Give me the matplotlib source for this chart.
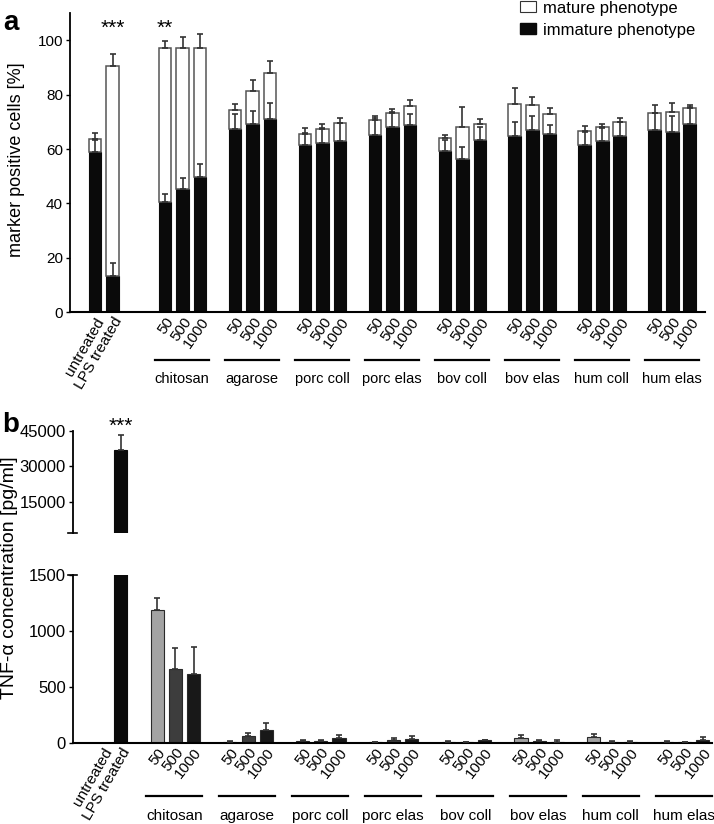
import matplotlib
matplotlib.use('Agg')
import matplotlib.pyplot as plt
import matplotlib.transforms as mtransforms
from matplotlib.patches import Patch
import numpy as np

plt.rcParams['font.family'] = ['Liberation Sans', 'DejaVu Sans']

# ---------------- data ----------------
controls = ['untreated', 'LPS treated']
materials = ['chitosan', 'agarose', 'porc coll', 'porc elas',
             'bov coll', 'bov elas', 'hum coll', 'hum elas']
doses = ['50', '500', '1000']

# panel a: marker positive cells [%]
ctrl_immature = [59.0, 13.3]
ctrl_immature_err = [4.5, 4.7]
ctrl_mature = [4.6, 77.4]
ctrl_mature_err = [2.4, 4.3]

mat_immature = [40.7, 45.4, 49.6, 67.3, 69.1, 71.2, 61.5, 62.2, 63.0,
                65.2, 68.1, 68.7, 59.2, 56.4, 63.3, 64.7, 66.9, 65.7,
                61.5, 63.1, 64.9, 67.0, 66.4, 69.2]
mat_immature_err = [2.8, 3.9, 4.8, 5.5, 4.7, 5.9, 4.5, 5.5, 6.5,
                    6.3, 5.6, 4.2, 4.1, 4.3, 4.9, 5.2, 5.4, 3.3,
                    4.9, 4.7, 5.2, 6.1, 5.8, 6.3]
mat_mature = [56.6, 51.9, 47.7, 7.0, 12.4, 16.9, 3.9, 5.3, 6.5,
              5.4, 5.1, 7.0, 4.8, 11.7, 6.0, 11.9, 9.3, 7.1,
              5.2, 5.1, 5.2, 6.4, 7.1, 5.9]
mat_mature_err = [2.3, 3.7, 4.9, 2.4, 3.9, 4.2, 2.5, 1.6, 1.8,
                  1.7, 1.4, 2.2, 1.3, 7.5, 1.8, 6.0, 3.1, 2.3,
                  1.9, 1.1, 1.2, 2.7, 3.3, 1.2]

# panel b: TNF-alpha concentration [pg/ml]
tnf_ctrl = [0, 37000]
tnf_ctrl_err = [0, 6300]
tnf_50 = [1190, 10, 15, 5, 10, 39, 54, 8]
tnf_50_err = [108, 5, 8, 5, 8, 27, 21, 8]
tnf_500 = [655, 62, 12, 21, 5, 12, 10, 5]
tnf_500_err = [190, 27, 8, 21, 4, 8, 5, 4]
tnf_1000 = [613, 110, 45, 36, 20, 10, 10, 28]
tnf_1000_err = [240, 69, 25, 21, 8, 12, 8, 22]

# ---------------- figure ----------------
W, H = 714, 824
fig = plt.figure(figsize=(W / 100, H / 100), dpi=100)


def fx(px):
    return px / W


def fy(py):
    return 1 - py / H


BLACK = '#0a0a0a'
ECOL = '#333333'

# ---------- panel a ----------
axa = fig.add_axes([fx(70), fy(312.3), fx(705) - fx(70), fy(13) - fy(312.3)])
nmat = len(materials)
xa_ctrl = np.arange(len(controls))
xa_mat = np.array([4 + 4 * i + j for i in range(nmat) for j in range(len(doses))])
xa = np.concatenate([xa_ctrl, xa_mat])
imm = np.array(ctrl_immature + mat_immature)
imm_err = np.array(ctrl_immature_err + mat_immature_err)
mat = np.array(ctrl_mature + mat_mature)
mat_err = np.array(ctrl_mature_err + mat_mature_err)
bw = 0.74
axa.bar(xa, imm, width=bw, color=BLACK, edgecolor=BLACK, linewidth=0.8, zorder=2)
axa.bar(xa, mat, bottom=imm, width=bw, color='white', edgecolor='#555555',
        linewidth=1.1, zorder=2)
axa.errorbar(xa, imm, yerr=[np.zeros_like(imm), imm_err], fmt='none',
             ecolor=ECOL, elinewidth=1.2, capsize=2.4, capthick=1.2, zorder=3)
axa.errorbar(xa, imm + mat, yerr=[np.zeros_like(mat), mat_err], fmt='none',
             ecolor=ECOL, elinewidth=1.2, capsize=2.4, capthick=1.2, zorder=3)
axa.set_xlim(-1.43, 34.86)
axa.set_ylim(0, 110)
axa.set_yticks([0, 20, 40, 60, 80, 100])
axa.tick_params(axis='y', labelsize=11, length=3, width=1, direction='out', pad=2)
axa.spines['top'].set_visible(False)
axa.spines['right'].set_visible(False)
axa.spines['left'].set_linewidth(1.3)
axa.spines['bottom'].set_linewidth(1.5)
axa.set_xticks(xa)
axa.set_xticklabels(controls + doses * nmat)
axa.tick_params(axis='x', length=0, pad=2, labelsize=11)
for k, lab in enumerate(axa.get_xticklabels()):
    lab.set_rotation(60 if k < 2 else 55)
    lab.set_ha('right')
    lab.set_va('top')
    lab.set_rotation_mode('anchor')
trans_a = mtransforms.blended_transform_factory(axa.transData, axa.transAxes)
for i, name in enumerate(materials):
    g0 = 4 + 4 * i
    axa.plot([g0 - 0.57, g0 + 2.5], [-0.159, -0.159], color='black', lw=1.6,
             transform=trans_a, clip_on=False)
    axa.text(g0 + 0.97, -0.223, name, transform=trans_a, ha='center',
             va='center', fontsize=10.5)
axa.text(1, 102.3, '***', ha='center', va='baseline', fontsize=15)
axa.text(4, 102.3, '**', ha='center', va='baseline', fontsize=15)

handles = [Patch(facecolor='white', edgecolor='#333333', linewidth=0.8),
           Patch(facecolor=BLACK, edgecolor=BLACK)]
fig.legend(handles, ['mature phenotype', 'immature phenotype'], loc='upper left',
           bbox_to_anchor=(fx(520), fy(0.5)), frameon=False, fontsize=12,
           handlelength=0.95, handleheight=0.6, handletextpad=0.45,
           labelspacing=0.42, borderpad=0, borderaxespad=0)

fig.text(fx(3), fy(29.5), 'a', fontsize=20, fontweight='bold', ha='left',
         va='baseline')
fig.text(fx(17), fy(160), 'marker positive cells [%]', rotation=90,
         ha='center', va='center', fontsize=13)

# ---------- panel b ----------
left_b = fx(72.7)
width_b = fx(712) - fx(72.7)
axu = fig.add_axes([left_b, fy(533.3), width_b, fy(431) - fy(533.3)])
axl = fig.add_axes([left_b, fy(742.7), width_b, fy(575) - fy(742.7)])

xb_ctrl = np.arange(len(controls))
bwb = 0.72
cols = ['#a3a3a3', '#3d3d3d', '#181818']
vals = [tnf_50, tnf_500, tnf_1000]
errs = [tnf_50_err, tnf_500_err, tnf_1000_err]

# upper (broken) part: only the LPS control reaches this range
axu.bar(xb_ctrl, tnf_ctrl, width=bwb, color=BLACK, edgecolor=BLACK,
        linewidth=0.8, zorder=2)
axu.errorbar(xb_ctrl, tnf_ctrl, yerr=[np.zeros(2), tnf_ctrl_err], fmt='none',
             ecolor=ECOL, elinewidth=1.2, capsize=2.4, capthick=1.2, zorder=3)

axl.bar(xb_ctrl, tnf_ctrl, width=bwb, color=BLACK, edgecolor=BLACK,
        linewidth=0.8, zorder=2)
for j in range(len(doses)):
    xj = np.array([3 + 4 * i + j for i in range(nmat)])
    axl.bar(xj, vals[j], width=bwb, color=cols[j], edgecolor='#2a2a2a',
            linewidth=0.8, zorder=2)
    axl.errorbar(xj, vals[j], yerr=[np.zeros(nmat), errs[j]], fmt='none',
                 ecolor=ECOL, elinewidth=1.2, capsize=2.4, capthick=1.2,
                 zorder=3)

for ax in (axu, axl):
    ax.set_xlim(-1.64, 33.5)
    ax.spines['top'].set_visible(False)
    ax.spines['right'].set_visible(False)
    ax.spines['left'].set_linewidth(1.3)
    ax.tick_params(axis='y', labelsize=12, length=3, width=1, direction='out', pad=2)

axu.set_ylim(1500, 45000)
axu.set_yticks([15000, 30000, 45000])
axu.spines['bottom'].set_visible(False)
axu.set_xticks([])
axl.set_ylim(0, 1500)
axl.set_yticks([0, 500, 1000, 1500])
axl.spines['bottom'].set_linewidth(1.5)

# break caps
for ax, yy in ((axu, 0), (axl, 1)):
    ax.plot([-0.007, 0.007], [yy, yy], transform=ax.transAxes, color='black',
            lw=1.2, clip_on=False)

xb_mat = [3 + 4 * i + j for i in range(nmat) for j in range(len(doses))]
xb = list(xb_ctrl) + xb_mat
axl.set_xticks(xb)
axl.set_xticklabels(controls + doses * nmat)
axl.tick_params(axis='x', length=0, pad=2, labelsize=11)
for k, lab in enumerate(axl.get_xticklabels()):
    lab.set_rotation(60 if k < 2 else 52)
    lab.set_ha('right')
    lab.set_va('top')
    lab.set_rotation_mode('anchor')
trans_b = mtransforms.blended_transform_factory(axl.transData, axl.transAxes)
for i, name in enumerate(materials):
    g0 = 3 + 4 * i
    axl.plot([g0 - 0.6, g0 + 2.48], [-0.316, -0.316], color='black', lw=1.6,
             transform=trans_b, clip_on=False)
    axl.text(g0 + 0.94, -0.435, name, transform=trans_b, ha='center',
             va='center', fontsize=11)

axu.text(1, 44600, '***', ha='center', va='baseline', fontsize=15, clip_on=False)

fig.text(fx(2), fy(432), 'b', fontsize=20, fontweight='bold', ha='left',
         va='baseline')
fig.text(fx(10), fy(578), 'TNF-\u03b1 concentration [pg/ml]', rotation=90,
         ha='center', va='center', fontsize=14)

fig.savefig('out.png', dpi=100)
